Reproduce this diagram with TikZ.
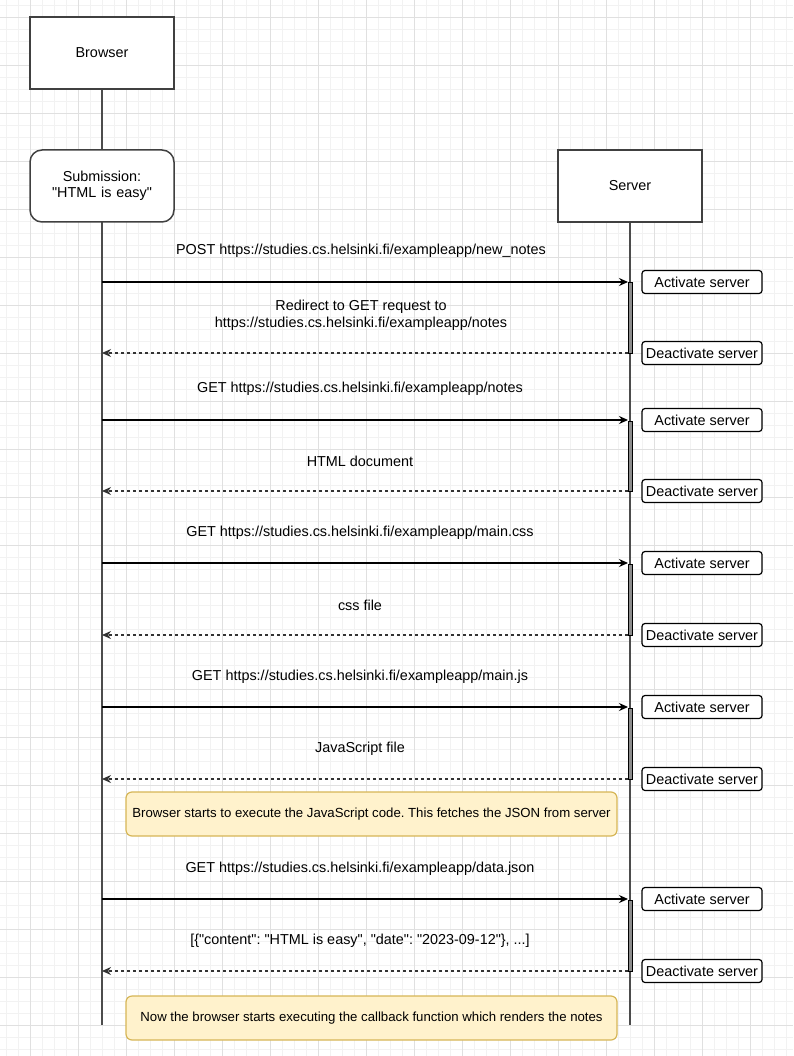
\documentclass[tikz,border=0pt]{standalone}
\usepackage{fontspec}
\setmainfont{Liberation Sans}[Ligatures=TeXOff]
\usetikzlibrary{arrows.meta}
\definecolor{notefill}{HTML}{FFF2CC}
\definecolor{notedraw}{HTML}{D6B656}
\frenchspacing
\begin{document}
\begin{tikzpicture}[x=1pt,y=-1pt,
  every node/.style={font=\fontsize{14.4}{17}\selectfont, text=black},
  minorgrid/.style={draw=black!5, line width=0.8pt},
  majorgrid/.style={draw=black!12, line width=0.8pt},
  actor/.style={draw=black!75, line width=1.5pt, fill=white, minimum width=144pt, minimum height=72pt, inner sep=0pt, align=center},
  lifeline/.style={draw=black!70, line width=2pt},
  msg/.style={draw=black, line width=1.3pt, -{Stealth[length=9pt,width=8pt]}},
  reply/.style={draw=black!80, line width=1.3pt, dash pattern=on 3pt off 3pt, -{Stealth[length=9pt,width=8pt]}},
  lbl/.style={inner sep=0pt, align=center},
  actbar/.style={draw=black, line width=1pt, fill=black!45},
  tag/.style={draw=black, line width=1.2pt, rounded corners=3pt, fill=white, minimum width=120pt, minimum height=23pt, inner sep=0pt},
  note/.style={draw=notedraw, line width=1.2pt, rounded corners=6pt, fill=notefill, minimum width=491pt, minimum height=44pt, inner sep=0pt, font=\fontsize{13.2}{16}\selectfont}
]
\useasboundingbox (0,0) rectangle (793,1056);
\fill[white] (0,0) rectangle (793,1056);
% grid
\foreach \i in {0,...,66} \draw[minorgrid] ({6+12*\i},0) -- ({6+12*\i},1056);
\foreach \i in {0,...,88} \draw[minorgrid] (0,{5+12*\i}) -- (793,{5+12*\i});
\foreach \i in {0,...,16} \draw[majorgrid] ({30+48*\i},0) -- ({30+48*\i},1056);
\foreach \i in {0,...,22} \draw[majorgrid] (0,{17+48*\i}) -- (793,{17+48*\i});

% lifelines
\coordinate (bend) at (102,1025);
\coordinate (send) at (630,1025);
\node[actor] (browser) at (102,53) {Browser};
\node[actor] (server) at (630,186) {Server};
\draw[lifeline] (browser.south) -- (bend);
\draw[lifeline] (server.south) -- (send);
\node[actor, rounded corners=12pt, text width=140pt] (sub) at (102,186) {Submission:\\[-1pt]"HTML is easy"};

% message rows
\foreach \n/\ya/\yb in {1/282/353, 2/420/491, 3/563/635, 4/707/779, 5/899/971}{
  \coordinate (bq\n) at (102,\ya);
  \coordinate (sq\n) at (628,\ya);
  \coordinate (br\n) at (102,\yb);
  \coordinate (sr\n) at (628,\yb);
  \draw[actbar] (628,{\ya+1}) rectangle (632,\yb);
  \node[tag] (act\n) at (702,\ya) {Activate server};
  \node[tag] (deact\n) at (702,\yb) {Deactivate server};
}
\draw[msg] (bq1) -- (sq1);
\draw[reply] (sr1) -- (br1);
\draw[msg] (bq2) -- (sq2);
\draw[reply] (sr2) -- (br2);
\draw[msg] (bq3) -- (sq3);
\draw[reply] (sr3) -- (br3);
\draw[msg] (bq4) -- (sq4);
\draw[reply] (sr4) -- (br4);
\draw[msg] (bq5) -- (sq5);
\draw[reply] (sr5) -- (br5);

\node[lbl] (l1) at (361,251) {POST https://studies.cs.helsinki.fi/exampleapp/new\_notes};
\node[lbl] (r1) at (361,315) {Redirect to GET request to\\https://studies.cs.helsinki.fi/exampleapp/notes};
\node[lbl] (l2) at (360,389) {GET https://studies.cs.helsinki.fi/exampleapp/notes};
\node[lbl] (r2) at (360,461) {HTML document};
\node[lbl] (l3) at (360,533) {GET https://studies.cs.helsinki.fi/exampleapp/main.css};
\node[lbl] (r3) at (360,605) {css file};
\node[lbl] (l4) at (360,677) {GET https://studies.cs.helsinki.fi/exampleapp/main.js};
\node[lbl] (r4) at (360,749) {JavaScript file};
\node[lbl] (l5) at (360,869) {GET https://studies.cs.helsinki.fi/exampleapp/data.json};
\node[lbl] (r5) at (360,941) {[\{"content": "HTML is easy", "date": "2023-09-12"\}, ...]};

\node[note] (n1) at (371.5,814) {Browser starts to execute the JavaScript code. This fetches the JSON from server};
\node[note] (n2) at (371.5,1018) {Now the browser starts executing the callback function which renders the notes};
\end{tikzpicture}
\end{document}
